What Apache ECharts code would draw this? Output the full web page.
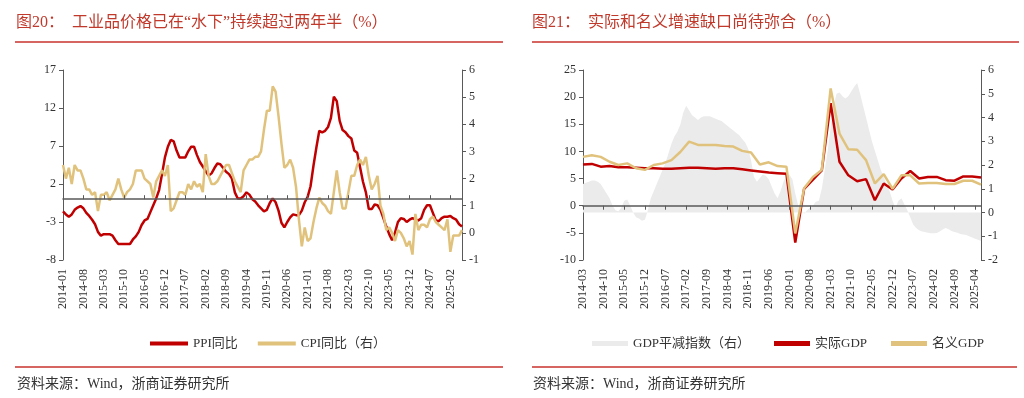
<!DOCTYPE html>
<html>
<head>
<meta charset="utf-8">
<script src="https://cdn.jsdelivr.net/npm/echarts@6/dist/echarts.min.js"></script>
<style>
html, body { margin: 0; padding: 0; background: #fff; }
#main { width: 1024px; height: 398px; }
</style>
</head>
<body>
<div id="main"></div>
<script>
// 图20 PPI / CPI 同比, 2014-01 ~ 2025-06 (月度)
var ppi = [
  -1.6,-2.0,-2.3,-2.0,-1.4,-1.1,-0.9,-1.2,-1.8,-2.2,-2.7,-3.3,
  -4.3,-4.8,-4.6,-4.6,-4.6,-4.8,-5.4,-5.9,-5.9,-5.9,-5.9,-5.9,
  -5.3,-4.9,-4.3,-3.4,-2.8,-2.6,-1.7,-0.8,0.1,1.2,3.3,5.5,
  6.9,7.8,7.6,6.4,5.5,5.5,5.5,6.3,6.9,6.9,5.8,4.9,
  4.3,3.7,3.1,3.4,4.1,4.7,4.6,4.1,3.6,3.3,2.7,0.9,
  0.1,0.1,0.4,0.9,0.6,0.0,-0.3,-0.8,-1.2,-1.6,-1.4,-0.5,
  0.1,-0.4,-1.5,-3.1,-3.7,-3.0,-2.4,-2.0,-2.1,-2.1,-1.5,-0.4,
  0.3,1.7,4.4,6.8,9.0,8.8,9.0,9.5,10.7,13.5,12.9,10.3,
  9.1,8.8,8.3,8.0,6.4,6.1,4.2,2.3,0.9,-1.3,-1.3,-0.7,
  -0.8,-1.4,-2.5,-3.6,-4.6,-5.4,-4.4,-3.0,-2.5,-2.6,-3.0,-2.7,
  -2.5,-2.7,-2.8,-2.5,-1.4,-0.8,-0.8,-1.8,-2.8,-2.9,-2.5,-2.3,
  -2.3,-2.2,-2.5,-2.7,-3.3,-3.6
];
var cpi = [
  2.5,2.0,2.4,1.8,2.5,2.3,2.3,2.0,1.6,1.6,1.4,1.5,
  0.8,1.4,1.4,1.5,1.2,1.4,1.6,2.0,1.6,1.3,1.5,1.6,
  1.8,2.3,2.3,2.3,2.0,1.9,1.8,1.3,1.9,2.1,2.3,2.1,
  2.5,0.8,0.9,1.2,1.5,1.5,1.4,1.8,1.6,1.9,1.7,1.8,
  1.5,2.9,2.1,1.8,1.8,1.9,2.1,2.3,2.5,2.5,2.2,1.9,
  1.7,1.5,2.3,2.5,2.7,2.7,2.8,2.8,3.0,3.8,4.5,4.5,
  5.4,5.2,4.3,3.3,2.4,2.5,2.7,2.4,1.7,0.5,-0.5,0.2,
  -0.3,-0.2,0.4,0.9,1.3,1.1,1.0,0.8,0.7,1.5,2.3,1.5,
  0.9,0.9,1.5,2.1,2.1,2.5,2.7,2.5,2.8,2.1,1.6,1.8,
  2.1,1.0,0.7,0.1,0.2,0.0,-0.3,0.1,0.0,-0.2,-0.5,-0.3,
  -0.8,0.7,0.1,0.3,0.3,0.2,0.5,0.6,0.4,0.3,0.2,0.1,
  0.5,-0.7,-0.1,-0.1,-0.1,0.1
];

// 图21 GDP, 2014-03 ~ 2025-06, 季度值 (03/06/09/12)
var realGdp = [
  7.6,7.7,7.2,7.3, 7.1,7.1,7.0,6.9, 6.9,6.8,6.8,6.9,
  7.0,7.0,6.9,6.8, 6.9,6.9,6.7,6.5, 6.3,6.1,6.0,5.9,
  -6.8,3.1,4.8,6.5, 18.9,8.1,5.6,4.5, 4.9,1.0,4.1,3.0,
  5.0,6.4,5.0,5.3, 5.3,4.7,4.6,5.4, 5.4,5.2
];
var nominalGdp = [
  9.0,9.3,9.0,8.1, 7.5,7.8,6.9,6.6, 7.5,7.8,8.4,9.9,
  11.8,11.2,11.2,11.2, 11.0,10.9,10.1,9.8, 7.6,8.0,7.3,7.2,
  -5.1,3.2,5.3,6.6, 21.6,13.3,10.4,10.3, 8.4,4.1,5.8,3.1,
  5.6,5.6,4.1,4.2, 4.2,4.0,4.0,4.6, 4.6,3.9
];
// GDP平减指数 (右轴), 月度, 2014-03 ~ 2025-06
var deflator = [
  1.2,1.25,1.3,1.35,1.35,1.3,1.2,1.0,0.8,0.6,0.3,0.1,
  0.05,0.2,0.5,0.55,0.3,0.0,-0.2,-0.25,-0.35,-0.3,0.1,0.6,
  0.9,1.2,1.5,1.8,2.1,2.5,2.9,3.2,3.4,3.7,4.2,4.5,
  4.3,4.1,4.0,3.9,4.0,4.05,4.05,4.05,4.0,3.95,3.9,3.85,
  3.75,3.65,3.55,3.45,3.35,3.25,3.1,2.95,2.7,2.2,1.5,1.3,
  1.45,1.6,1.55,1.4,1.1,0.8,0.6,0.9,1.3,1.55,1.6,1.4,
  0.8,0.3,0.1,-0.05,0.1,0.2,0.3,0.45,0.5,1.0,1.8,2.6,
  3.6,4.5,5.0,5.05,4.9,4.8,4.9,5.1,5.3,5.45,5.0,4.5,
  4.0,3.5,3.0,2.6,2.2,1.8,1.5,1.2,0.9,0.5,0.2,0.5,
  0.6,0.35,0.1,-0.2,-0.5,-0.65,-0.75,-0.8,-0.82,-0.85,-0.87,-0.87,
  -0.86,-0.8,-0.72,-0.65,-0.7,-0.78,-0.82,-0.85,-0.9,-0.93,-0.95,-1.0,
  -1.05,-1.1,-1.15,-1.2
];

var ppiTicks = [-8, -3, 2, 7, 12, 17];
var gdpTicks = [-10, -5, 0, 5, 10, 15, 20, 25];

function monthList(y, m, n) {
  var out = [];
  for (var i = 0; i < n; i++) {
    var mm = m + i;
    var yy = y + Math.floor((mm - 1) / 12);
    mm = ((mm - 1) % 12) + 1;
    out.push(yy + '-' + (mm < 10 ? '0' + mm : mm));
  }
  return out;
}
var months1 = monthList(2014, 1, ppi.length);
var months2 = monthList(2014, 3, deflator.length);

// 季度值放到月度轴上, 其它月份留空
function toMonthly(q) {
  var out = [];
  for (var i = 0; i < months2.length; i++) {
    out.push(i % 3 === 0 ? q[i / 3] : null);
  }
  return out;
}

var FONT = "'Liberation Serif', 'Noto Sans CJK SC', serif";
var RED = '#c00000';
var GOLD = '#e0c27c';
var AXIS = '#595959';
var TXT = '#333';

function yAxis(grid, pos, min, max, step) {
  return {
    type: 'value', gridIndex: grid, position: pos,
    min: min, max: max, interval: step,
    axisLine: { show: true, lineStyle: { color: AXIS, width: 1 } },
    axisTick: { show: true, inside: false, length: 4, lineStyle: { color: AXIS } },
    axisLabel: { color: TXT, fontFamily: FONT, fontSize: 12, margin: 7 },
    splitLine: { show: false }
  };
}
function labelAxis(grid, data) {
  return {
    type: 'category', gridIndex: grid, data: data, boundaryGap: false,
    position: 'bottom',
    axisLine: { show: false, onZero: false },
    axisTick: { show: false },
    axisLabel: { rotate: 90, interval: 6, color: TXT, fontFamily: FONT, fontSize: 12, margin: 9 }
  };
}
function zeroAxis(grid, data, yIdx, inside) {
  return {
    type: 'category', gridIndex: grid, data: data, boundaryGap: false,
    position: 'bottom', z: 5,
    axisLine: { show: true, onZero: true, onZeroAxisIndex: yIdx, lineStyle: { color: AXIS, width: 1.5 } },
    axisTick: { show: true, inside: inside, length: 4, interval: 6, lineStyle: { color: AXIS } },
    axisLabel: { show: false }
  };
}

var option = {
  animation: false,
  backgroundColor: '#fff',
  textStyle: { fontFamily: FONT },
  grid: [
    { left: 63, right: 562, top: 70, bottom: 138 },
    { left: 583, right: 43, top: 70, bottom: 138 }
  ],
  xAxis: [
    labelAxis(0, months1),
    zeroAxis(0, months1, 0, true),
    labelAxis(1, months2),
    zeroAxis(1, months2, 2, false)
  ],
  yAxis: [
    yAxis(0, 'left', ppiTicks[0], ppiTicks[ppiTicks.length - 1], 5),
    yAxis(0, 'right', -1, 6, 1),
    yAxis(1, 'left', gdpTicks[0], gdpTicks[gdpTicks.length - 1], 5),
    yAxis(1, 'right', -2, 6, 1)
  ],
  legend: [
    {
      left: 145, top: 332, itemWidth: 38, itemHeight: 4, itemGap: 20,
      icon: 'rect',
      textStyle: { color: TXT, fontFamily: FONT, fontSize: 13 },
      data: ['PPI同比', 'CPI同比（右）']
    },
    {
      left: 587, top: 332, itemWidth: 36, itemHeight: 5, itemGap: 24,
      icon: 'rect',
      textStyle: { color: TXT, fontFamily: FONT, fontSize: 13 },
      data: ['GDP平减指数（右）', '实际GDP', '名义GDP']
    }
  ],
  graphic: [
    { type: 'text', left: 16, top: 15, style: { text: '图20：  工业品价格已在“水下”持续超过两年半（%）', fill: '#c0392b', font: '16px ' + FONT } },
    { type: 'line', shape: { x1: 15, y1: 42, x2: 503, y2: 42 }, style: { stroke: '#c9302c', lineWidth: 1.5 } },
    { type: 'text', left: 532, top: 15, style: { text: '图21：  实际和名义增速缺口尚待弥合（%）', fill: '#c0392b', font: '16px ' + FONT } },
    { type: 'line', shape: { x1: 532, y1: 42, x2: 1019, y2: 42 }, style: { stroke: '#c9302c', lineWidth: 1.5 } },
    { type: 'line', shape: { x1: 15, y1: 367, x2: 503, y2: 367 }, style: { stroke: '#c9302c', lineWidth: 1.5 } },
    { type: 'line', shape: { x1: 532, y1: 367, x2: 1017, y2: 367 }, style: { stroke: '#c9302c', lineWidth: 1.5 } },
    { type: 'text', left: 17, top: 377, style: { text: '资料来源：Wind，浙商证券研究所', fill: TXT, font: '14px ' + FONT } },
    { type: 'text', left: 533, top: 377, style: { text: '资料来源：Wind，浙商证券研究所', fill: TXT, font: '14px ' + FONT } }
  ],
  series: [
    {
      name: 'PPI同比', type: 'line', xAxisIndex: 0, yAxisIndex: 0,
      data: ppi, symbol: 'none', color: RED,
      lineStyle: { color: RED, width: 2.5 }
    },
    {
      name: 'CPI同比（右）', type: 'line', xAxisIndex: 0, yAxisIndex: 1,
      data: cpi, symbol: 'none', color: GOLD,
      lineStyle: { color: GOLD, width: 2.5 }
    },
    {
      name: 'GDP平减指数（右）', type: 'line', xAxisIndex: 2, yAxisIndex: 3,
      data: deflator, symbol: 'none', color: '#ebebeb',
      lineStyle: { width: 0 },
      areaStyle: { color: '#ebebeb', opacity: 1 }
    },
    {
      name: '实际GDP', type: 'line', xAxisIndex: 2, yAxisIndex: 2,
      data: toMonthly(realGdp), connectNulls: true, symbol: 'none', color: RED,
      lineStyle: { color: RED, width: 2.5 }
    },
    {
      name: '名义GDP', type: 'line', xAxisIndex: 2, yAxisIndex: 2,
      data: toMonthly(nominalGdp), connectNulls: true, symbol: 'none', color: GOLD,
      lineStyle: { color: GOLD, width: 2.5 }
    }
  ]
};

var chart = echarts.init(document.getElementById('main'));
chart.setOption(option);
</script>
</body>
</html>
